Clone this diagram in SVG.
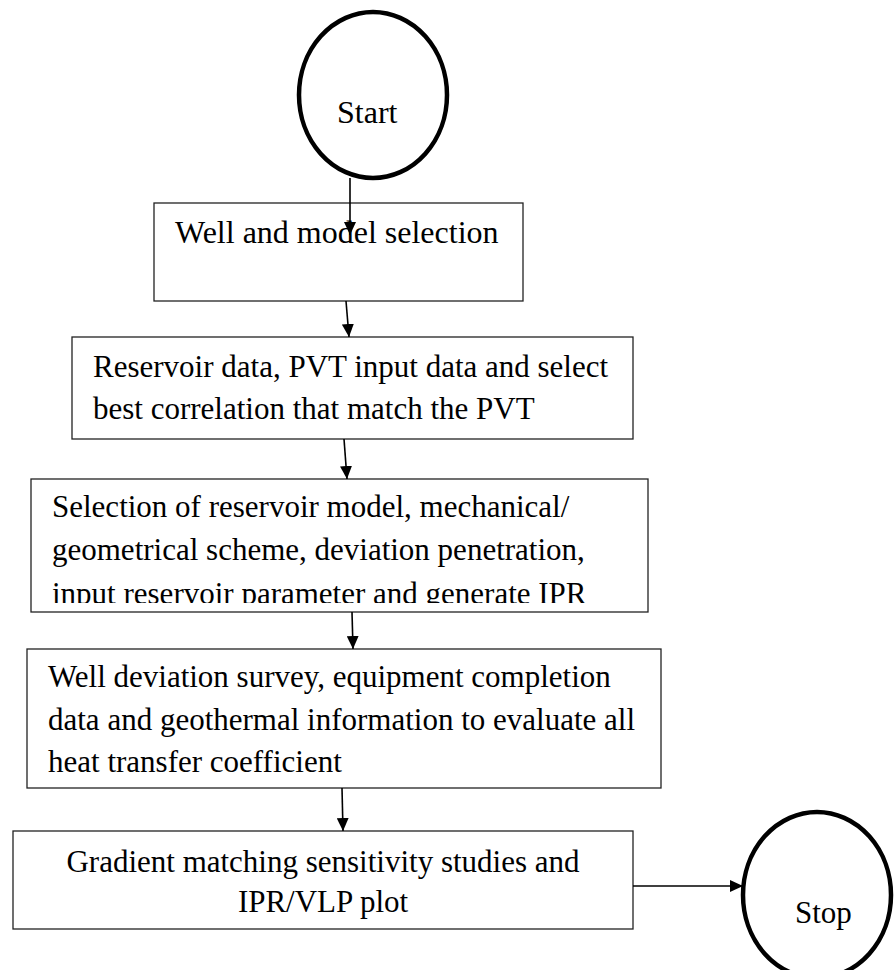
<svg xmlns="http://www.w3.org/2000/svg" width="894" height="970" viewBox="0 0 894 970">
<style>
.box{fill:#fff;stroke:#222;stroke-width:1.3}
.term{fill:#fff;stroke:#000;stroke-width:4.5}
.t{font-family:"Liberation Serif","Times New Roman",serif;font-size:31px;fill:#000}
.c{stroke:#000;stroke-width:1.6;fill:none}
</style>
<defs>
<marker id="ah" viewBox="0 0 13 12" refX="13" refY="6" markerWidth="13" markerHeight="12" markerUnits="userSpaceOnUse" orient="auto">
<path d="M0,0 L13,6 L0,12 Z" fill="#000"/>
</marker>
<clipPath id="clip3"><rect x="20" y="479" width="640" height="124"/></clipPath>
</defs>
<rect width="894" height="970" fill="#fff"/>
<g id="start">
<ellipse class="term" cx="373" cy="95" rx="74" ry="83"/>
<text class="t" x="337" y="123" style="font-size:32px">Start</text>
</g>
<g id="box1">
<rect class="box" x="154" y="203" width="369" height="98"/>
<text class="t" x="175" y="243" style="font-size:32px">Well and model selection</text>
</g>
<g id="box2">
<rect class="box" x="72" y="337" width="561" height="102"/>
<text class="t" x="93" y="377">Reservoir data, PVT input data and select</text>
<text class="t" x="93" y="419">best correlation that match the PVT</text>
</g>
<g id="box3">
<rect class="box" x="31" y="479" width="617" height="133"/>
<g clip-path="url(#clip3)">
<text class="t" x="52" y="517">Selection of reservoir model, mechanical/</text>
<text class="t" x="52" y="560">geometrical scheme, deviation penetration,</text>
<text class="t" x="52" y="604">input reservoir parameter and generate IPR</text>
</g>
</g>
<g id="box4">
<rect class="box" x="27" y="649" width="634" height="139"/>
<text class="t" x="48" y="687">Well deviation survey, equipment completion</text>
<text class="t" x="48" y="730">data and geothermal information to evaluate all</text>
<text class="t" x="48" y="772">heat transfer coefficient</text>
</g>
<g id="box5">
<rect class="box" x="13" y="831" width="620" height="98"/>
<text class="t" x="323" y="872" text-anchor="middle">Gradient matching sensitivity studies and</text>
<text class="t" x="323" y="912" text-anchor="middle">IPR/VLP plot</text>
</g>
<g id="stop">
<ellipse class="term" cx="817" cy="895" rx="74" ry="83"/>
<text class="t" x="795" y="923">Stop</text>
</g>
<g id="connectors">
<line class="c" x1="350" y1="178" x2="350" y2="235" marker-end="url(#ah)"/>
<line class="c" x1="346" y1="301" x2="349" y2="337" marker-end="url(#ah)"/>
<line class="c" x1="344" y1="439" x2="347" y2="479" marker-end="url(#ah)"/>
<line class="c" x1="352" y1="612" x2="353" y2="649" marker-end="url(#ah)"/>
<line class="c" x1="342" y1="788" x2="343" y2="831" marker-end="url(#ah)"/>
<line class="c" x1="633" y1="886" x2="743" y2="886" marker-end="url(#ah)"/>
</g>
</svg>
